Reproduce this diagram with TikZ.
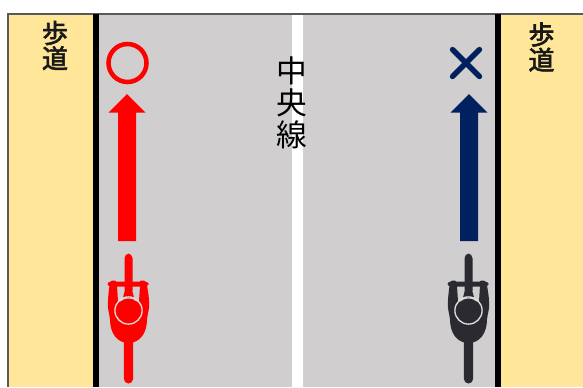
\documentclass[tikz,border=0pt]{standalone}
\usepackage{fontspec}
\newfontfamily\cjk{Noto Sans CJK JP}
\newfontfamily\cjkheavy[FakeBold=2.5]{Noto Sans CJK JP}
\definecolor{road}{HTML}{D0CECE}
\definecolor{walk}{HTML}{FFE699}
\definecolor{navy}{HTML}{002060}
\definecolor{bikedark}{HTML}{2A2A30}
\definecolor{edgegray}{HTML}{595959}
\tikzset{
  walklabel/.style={font=\cjkheavy\fontsize{19.5pt}{19.5pt}\selectfont, inner sep=0pt, align=center, text=black!90},
  centrelabel/.style={font=\cjk\fontsize{23pt}{24pt}\selectfont, inner sep=0pt, align=center},
  curb/.style={line width=4.3pt, black},
  pics/cyclist/.style={code={
    % wheels
    \fill[#1, rounded corners=3.5pt] (-4,-56) rectangle (4,-14);
    \fill[#1, rounded corners=3.5pt] (-4.6,26) rectangle (4.6,74);
    % handlebar and grips
    \fill[#1, rounded corners=2.4pt] (-21,-28) rectangle (20,-23);
    \fill[#1, rounded corners=1.5pt] (-18,-29) rectangle (-12,-24);
    \fill[#1, rounded corners=1.5pt] (11,-29) rectangle (17,-24);
    % arms and body
    \fill[#1] (-19,-24) -- (-11.5,-24) -- (-10.5,-8) -- (10.5,-8) -- (11.5,-24) -- (18.5,-24)
      .. controls (20,-16) and (21,-8) .. (20.5,-2)
      .. controls (20,4) and (18.5,6) .. (18.5,10)
      .. controls (18.5,24) and (11,33.5) .. (0,33.5)
      .. controls (-11,33.5) and (-18.5,24) .. (-18.5,10)
      .. controls (-18.5,6) and (-20,4) .. (-20.5,-2)
      .. controls (-21,-8) and (-20,-16) .. cycle;
    \fill[#1] (-4,-18) -- (4,-18) -- (5.5,-12) -- (-5.5,-12) -- cycle;
    \fill[#1] (0,1) circle (12);
    \draw[road!70!white, line width=1pt] (0,1) circle (13.6);
  }}
}
\begin{document}
\begin{tikzpicture}[x=0.75pt,y=-0.75pt]
\useasboundingbox (0,0) rectangle (583,387);
\fill[white] (0,0) rectangle (583,387);
\fill[walk] (8,14) rectangle (96,387);
\fill[walk] (497,14) rectangle (583,387);
\fill[road] (96,14) rectangle (497,387);
\fill[white] (291.5,14) rectangle (303,387);
\draw[edgegray, line width=1.5pt] (8,387) -- (8,13.5) -- (583,13.5);
\draw[curb] (96.3,14) -- (96.3,387);
\draw[curb] (497.7,14) -- (497.7,387);
\node[walklabel] (wl) at (55,45.5) {歩\\[-0.5pt]道};
\node[walklabel] (wr) at (541.5,47) {歩\\[-0.5pt]道};
\node[centrelabel] (c) at (291.5,103) {中\\央\\線};
% signs
\draw[red, line width=3.4pt] (127.5,63) circle (19);
\draw[navy, line width=4pt, line cap=round] (452.5,49.5) -- (479.5,76.5) (479.5,49.5) -- (452.5,76.5);
% arrows
\fill[red] (127,94) -- (145.5,112.5) -- (136,112.5) -- (136,241) -- (118,241) -- (118,112.5) -- (108.5,112.5) -- cycle;
\fill[navy] (469,94) -- (487.5,112.5) -- (478,112.5) -- (478,241) -- (460,241) -- (460,112.5) -- (450.5,112.5) -- cycle;
% cyclists
\pic at (128.5,309.5) {cyclist=red};
\pic at (468.5,309.5) {cyclist=bikedark};
\end{tikzpicture}
\end{document}
